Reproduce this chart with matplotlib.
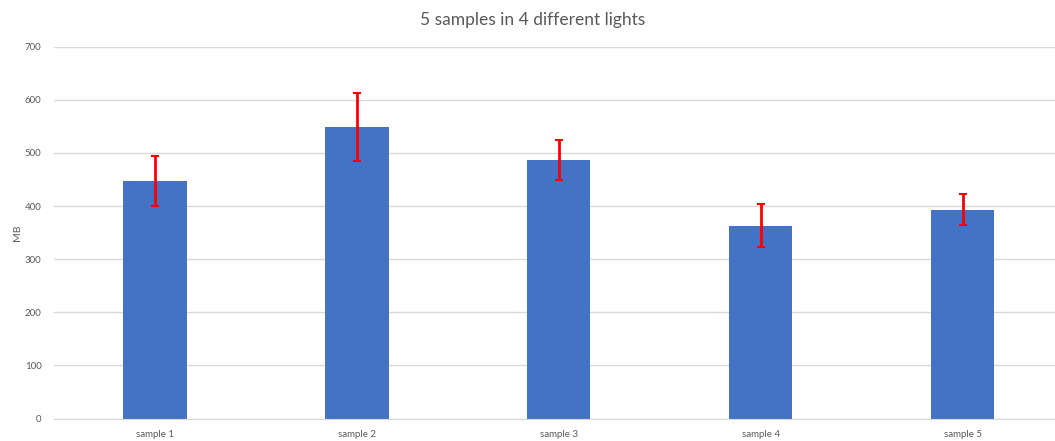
import numpy as np
import matplotlib.pyplot as plt

plt.rcParams['font.family'] = ['Lato', 'DejaVu Sans']

samples = ['sample 1', 'sample 2', 'sample 3', 'sample 4', 'sample 5']
mb_values = [447, 548, 487, 363, 393]
mb_errors = [47, 64, 37, 41, 29]


def plot_chart():
    fig = plt.figure(figsize=(10.55, 4.41), dpi=100)
    ax = fig.add_axes([0.0512, 0.051, 0.957, 0.843])

    x = np.arange(len(samples))
    ax.bar(x, mb_values, width=0.313, color='#4472C4', zorder=2)
    ax.errorbar(x, mb_values, yerr=mb_errors, fmt='none', ecolor='#FF0000',
                elinewidth=2, capsize=3, capthick=1.5, zorder=3)

    ax.set_xlim(-0.5, len(samples) - 0.5)
    ax.set_ylim(0, 700)
    ax.set_yticks(range(0, 701, 100))
    ax.set_xticks(x)
    ax.set_xticklabels(samples)

    ax.grid(axis='y', color='#D9D9D9', linewidth=1, zorder=0)
    for side in ['top', 'right', 'left']:
        ax.spines[side].set_visible(False)
    ax.spines['bottom'].set_color('#D9D9D9')
    ax.tick_params(axis='both', length=0, labelsize=7, labelcolor='#595959')
    ax.tick_params(axis='x', pad=8)
    ax.tick_params(axis='y', pad=9)

    ax.set_ylabel('MB', fontsize=7.5, color='#595959', labelpad=2)
    fig.text(0.505, 0.955, '5 samples in 4 different lights', ha='center', va='center',
             fontsize=12.5, color='#595959')

    fig.savefig('out.png', dpi=100)


if __name__ == "__main__":
    plot_chart()
